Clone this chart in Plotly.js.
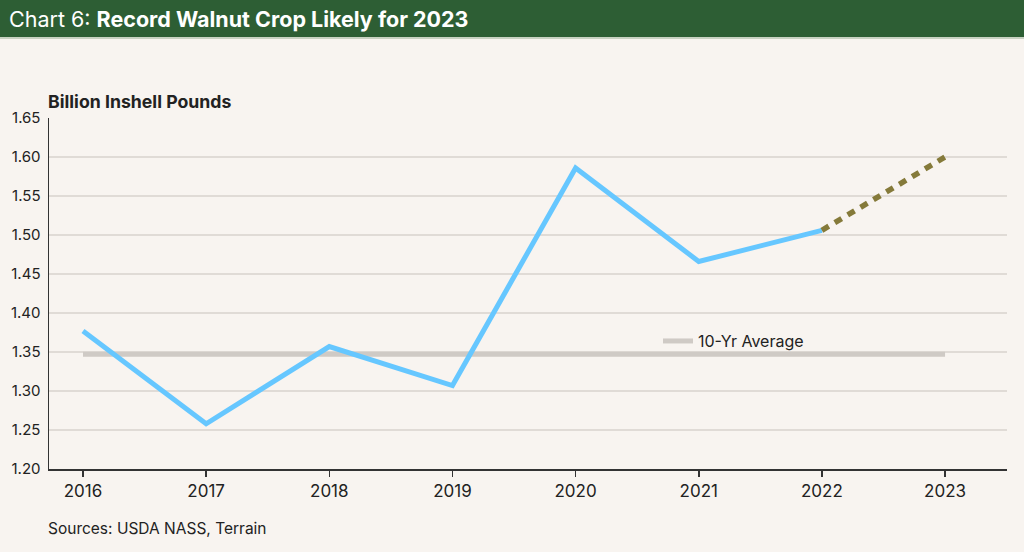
<!DOCTYPE html>
<html>
<head>
<meta charset="utf-8">
<script src="https://cdn.plot.ly/plotly-3.0.1.min.js"></script>
<style>
html,body{margin:0;padding:0;background:#f8f4f0;}
#chart{width:1024px;height:552px;}
</style>
</head>
<body>
<div id="chart"></div>
<script>
const years = [2016, 2017, 2018, 2019, 2020, 2021, 2022, 2023];
const actualYears = [2016, 2017, 2018, 2019, 2020, 2021, 2022];
const actualValues = [1.377, 1.258, 1.357, 1.307, 1.586, 1.466, 1.506];
const forecastYears = [2022, 2023];
const forecastValues = [1.506, 1.600];
const avgYears = [2016, 2023];
const avgValues = [1.347, 1.347];
const yTicks = [1.20, 1.25, 1.30, 1.35, 1.40, 1.45, 1.50, 1.55, 1.60, 1.65];

const FONT = 'Inter, "Liberation Sans", Arial, sans-serif';
const PH = 351, PW = 958, MT = 118, ML = 49;
const py = px => 1 + (MT - px) / PH;   // pixel row -> paper y
const pxx = px => (px - ML) / PW;      // pixel col -> paper x

const traces = [
  {x: avgYears, y: avgValues, mode: 'lines', name: '10-Yr Average',
   line: {color: '#cfcac5', width: 5}, showlegend: true, hoverinfo: 'skip'},
  {x: actualYears, y: actualValues, mode: 'lines', name: 'Actual',
   line: {color: '#66c7ff', width: 5}, showlegend: false},
  {x: forecastYears, y: forecastValues, mode: 'lines', name: 'Forecast',
   line: {color: '#857a3a', width: 5.5, dash: '8px,7px'}, showlegend: false}
];

const layout = {
  width: 1024, height: 552,
  paper_bgcolor: '#f8f4f0', plot_bgcolor: '#f8f4f0',
  margin: {l: ML, r: 17, t: MT, b: 83},
  font: {family: FONT, color: '#222', size: 14},
  showlegend: true,
  legend: {x: pxx(658), y: 0.3645, xanchor: 'left', yanchor: 'middle', itemwidth: 30,
           bgcolor: 'rgba(0,0,0,0)', font: {size: 16, color: '#222'}},
  xaxis: {range: [2015.724, 2023.503], tickvals: years, ticktext: years.map(String),
          showgrid: false, zeroline: false, showline: true, linecolor: '#333', linewidth: 1.5,
          ticks: 'outside', ticklen: 6, tickcolor: '#333', tickwidth: 1.5,
          tickfont: {size: 17, color: '#222'}},
  yaxis: {range: [1.2, 1.65], tickvals: yTicks, ticktext: yTicks.map(v => v.toFixed(2)),
          showgrid: true, gridcolor: '#e0dbd6', gridwidth: 1.5, zeroline: false,
          showline: true, linecolor: '#333', linewidth: 1.5, ticks: '', ticklabelstandoff: 4,
          tickfont: {size: 15, color: '#222'}},
  shapes: [
    {type: 'rect', xref: 'paper', yref: 'paper', x0: pxx(-5), x1: pxx(1030), y0: py(37), y1: py(-5),
     fillcolor: '#2d5e34', line: {width: 0}, layer: 'below'},
    {type: 'line', xref: 'paper', yref: 'paper', x0: pxx(-5), x1: pxx(1030), y0: py(38), y1: py(38),
     line: {color: '#b9c7b3', width: 1.5}, layer: 'below'}
  ],
  annotations: [
    {xref: 'paper', yref: 'paper', x: pxx(7), y: py(19), xanchor: 'left', yanchor: 'middle',
     text: 'Chart 6: <b>Record Walnut Crop Likely for 2023</b>', showarrow: false,
     font: {family: FONT, size: 21.5, color: '#ffffff'}},
    {xref: 'paper', yref: 'paper', x: pxx(46), y: py(101), xanchor: 'left', yanchor: 'middle',
     text: '<b>Billion Inshell Pounds</b>', showarrow: false,
     font: {family: FONT, size: 17.7, color: '#222'}},
    {xref: 'paper', yref: 'paper', x: pxx(46), y: py(528), xanchor: 'left', yanchor: 'middle',
     text: 'Sources: USDA NASS, Terrain', showarrow: false,
     font: {family: FONT, size: 15.5, color: '#222'}}
  ]
};

Plotly.newPlot('chart', traces, layout, {displayModeBar: false, staticPlot: true});
</script>
</body>
</html>
